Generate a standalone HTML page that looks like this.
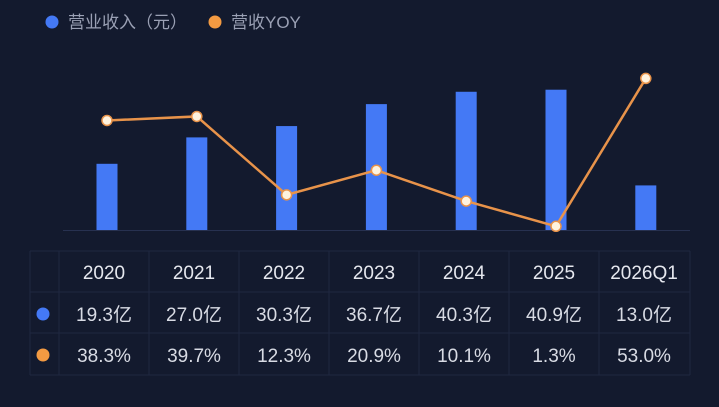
<!DOCTYPE html>
<html><head><meta charset="utf-8"><style>
body{margin:0;width:719px;height:407px;background:#131a2e;overflow:hidden;font-family:"Liberation Sans","Noto Sans CJK SC",sans-serif;}
svg{position:absolute;left:0;top:0}
</style></head><body>
<svg width="719" height="407">
<g id="legend">
<circle cx="52" cy="22" r="6.5" fill="#4479f5"/>
<text x="68" y="28" fill="#9aa0b4" font-size="17">营业收入（元）</text>
<circle cx="215" cy="22" r="6.5" fill="#f39a42"/>
<text x="231" y="28" fill="#9aa0b4" font-size="17">营收YOY</text>
</g>
<line x1="63" y1="230.5" x2="690" y2="230.5" stroke="#273150" stroke-width="1"/>
<g id="bars"></g><g id="line"></g><g id="table"></g>
</svg>
<script>
const categories=["2020","2021","2022","2023","2024","2025","2026Q1"];
const revenue=[19.3,27.0,30.3,36.7,40.3,40.9,13.0];
const yoy=[38.3,39.7,12.3,20.9,10.1,1.3,53.0];
const NS="http://www.w3.org/2000/svg";
const x=i=>107+i*89.8;
const yBar=v=>230-v*3.43;
const yLine=v=>230-v*2.86;
function mk(t,a,p){const e=document.createElementNS(NS,t);for(const k in a)e.setAttribute(k,a[k]);p.appendChild(e);return e;}
const bars=document.getElementById('bars'),line=document.getElementById('line'),table=document.getElementById('table');
revenue.forEach((v,i)=>{const r=mk('rect',{x:x(i)-10.5,y:yBar(v),width:21,height:230-yBar(v),fill:'#4479f5'},bars);

});
const pl=mk('polyline',{points:yoy.map((v,i)=>x(i)+','+yLine(v)).join(' '),fill:'none',stroke:'#e8934a','stroke-width':2.5},line);


yoy.forEach((v,i)=>{const c=mk('circle',{cx:x(i),cy:yLine(v),r:5,fill:'#fff3df',stroke:'#e8934a','stroke-width':1.5},line);

});
const gs={stroke:'#1f2840','stroke-width':1};
[251,292,333,375].forEach(y=>mk('line',Object.assign({x1:30,y1:y,x2:690,y2:y},gs),table));
[30,59,149,239,329,419,509,599,690].forEach(xx=>mk('line',Object.assign({x1:xx,y1:251,x2:xx,y2:375},gs),table));
const d1=mk('circle',{cx:43,cy:314,r:6.5,fill:'#4479f5'},table);


const d2=mk('circle',{cx:43,cy:355,r:6.5,fill:'#f39a42'},table);


categories.forEach((c,i)=>{
const cx=104+i*90;
const h=mk('text',{x:cx,y:279,fill:'#e6e8ef','font-size':19,'text-anchor':'middle'},table);h.textContent=c;


const r=mk('text',{x:cx,y:321,fill:'#d8dbe4','font-size':19,'text-anchor':'middle'},table);r.textContent=revenue[i].toFixed(1)+'亿';


const p=mk('text',{x:cx,y:362,fill:'#d8dbe4','font-size':19,'text-anchor':'middle'},table);p.textContent=yoy[i].toFixed(1)+'%';


});
</script>
</body></html>
